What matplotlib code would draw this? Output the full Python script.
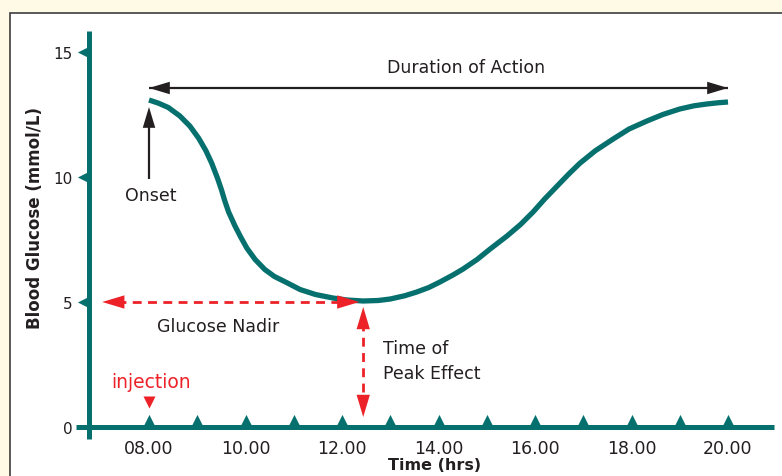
import matplotlib
matplotlib.use("Agg")
import matplotlib.pyplot as plt
import matplotlib.transforms as mtransforms
from matplotlib.patches import Rectangle

# ---- data ----
hours = [8.0, 8.2, 8.4, 8.64, 8.85, 9.03, 9.18, 9.3, 9.42, 9.5, 9.57, 9.65, 9.78,
         9.9, 10.03, 10.2, 10.4, 10.6, 10.85, 11.13, 11.45, 11.81, 12.1, 12.44,
         12.75, 13.0, 13.3, 13.55, 13.8, 14.03, 14.3, 14.51, 14.8, 15.07, 15.42,
         15.7, 15.96, 16.2, 16.45, 16.7, 16.93, 17.25, 17.62, 17.95, 18.32, 18.65,
         19.0, 19.3, 19.56, 19.8, 20.0]
glucose = [13.08, 12.95, 12.78, 12.44, 12.03, 11.55, 11.05, 10.55, 9.95, 9.5,
           9.05, 8.6, 8.05, 7.6, 7.15, 6.7, 6.3, 6.02, 5.78, 5.5, 5.3, 5.16,
           5.08, 5.04, 5.06, 5.12, 5.25, 5.4, 5.58, 5.8, 6.08, 6.32, 6.7, 7.12,
           7.64, 8.1, 8.6, 9.12, 9.62, 10.12, 10.55, 11.05, 11.52, 11.92, 12.24,
           12.5, 12.72, 12.85, 12.92, 12.97, 13.0]
hour_ticks = [8, 9, 10, 11, 12, 13, 14, 15, 16, 17, 18, 19, 20]
label_hours = [8, 10, 12, 14, 16, 18, 20]
label_texts = ["08.00", "10.00", "12.00", "14.00", "16.00", "18.00", "20.00"]
y_ticks = [0, 5, 10, 15]
y_tick_labels = ["0", "5", "10", "15"]

injection_time = 8.0
onset_time = 8.0
end_time = 20.0
nadir_time = 12.44
nadir_glucose = 5.0

TEAL = "#06706E"
RED = "#EC2228"
DARK = "#231F20"
FONT = "DejaVu Sans"

plt.rcParams["font.family"] = FONT

fig = plt.figure(figsize=(7.82, 4.77), dpi=100)
fig.patch.set_facecolor("#FEFAE5")
panel = Rectangle((10 / 782, -0.2), 1.5, 1.2 - 14 / 477, transform=fig.transFigure,
                  facecolor="white", edgecolor="#3d3d3d", lw=1.2, zorder=-5)
fig.add_artist(panel)

ax = fig.add_axes([71.8 / 782, 34 / 477, 704.45 / 782, 415 / 477])
ax.patch.set_visible(False)
ax.set_xlim(6.4, 21.0)
ax.set_ylim(-0.6, 16.0)

for s in ["top", "right"]:
    ax.spines[s].set_visible(False)
ax.spines["left"].set_position(("data", 6.76))
ax.spines["left"].set_bounds(-0.48, 15.84)
ax.spines["bottom"].set_position(("data", 0))
ax.spines["bottom"].set_bounds(6.49, 20.95)
for s in ["left", "bottom"]:
    ax.spines[s].set_color(TEAL)
    ax.spines[s].set_linewidth(3.6)
    ax.spines[s].set_capstyle("butt")

ax.set_xticks(label_hours)
ax.set_xticklabels(label_texts, fontsize=12.5, color=DARK)
ax.set_yticks(y_ticks)
ax.set_yticklabels(y_tick_labels, fontsize=11, color=DARK)
ax.tick_params(axis="x", length=0, pad=9)
ax.tick_params(axis="y", length=0, pad=12)

# triangle tick marks
up = mtransforms.offset_copy(ax.transData, fig=fig, x=0, y=7.5, units="dots")
ax.scatter(hour_ticks, [0] * len(hour_ticks), marker="^", s=65, color=TEAL,
           transform=up, zorder=4, linewidths=0, clip_on=False)
left = mtransforms.offset_copy(ax.transData, fig=fig, x=-6, y=0, units="dots")
ax.scatter([6.76] * 3, y_ticks[1:], marker="<", s=65, color=TEAL,
           transform=left, zorder=4, linewidths=0, clip_on=False)

# main curve
ax.plot(hours, glucose, color=TEAL, lw=3.8, solid_joinstyle="round",
        solid_capstyle="butt", zorder=5)

BLACK_HEAD = "-|>,head_length=1.5,head_width=0.45"
RED_HEAD = "-|>,head_length=1.6,head_width=0.48"


def head(tip, tail, color, style):
    ax.annotate("", xy=tip, xytext=tail,
                arrowprops=dict(arrowstyle=style, color=color, lw=0,
                                shrinkA=0, shrinkB=0, mutation_scale=10),
                zorder=6)


# Duration of action arrow
ax.plot([onset_time, end_time], [13.56, 13.56], color=DARK, lw=1.6,
        solid_capstyle="butt")
head((onset_time, 13.56), (onset_time + 1.0, 13.56), DARK, BLACK_HEAD)
head((end_time, 13.56), (end_time - 1.0, 13.56), DARK, BLACK_HEAD)
ax.text(14.57, 14.05, "Duration of Action", ha="center", va="bottom",
        fontsize=12.5, color=DARK)

# Onset arrow
ax.plot([onset_time, onset_time], [9.92, 12.4], color=DARK, lw=1.6,
        solid_capstyle="butt")
head((onset_time, 12.8), (onset_time, 10.8), DARK, BLACK_HEAD)
ax.text(onset_time + 0.03, 9.28, "Onset", ha="center", va="center",
        fontsize=12.5, color=DARK)

# Glucose nadir dashed arrow
nadir_left = 7.03
ax.plot([nadir_left + 0.3, nadir_time - 0.4], [nadir_glucose, nadir_glucose],
        color=RED, lw=2.0, ls=(0, (3.2, 2.3)))
head((nadir_left, nadir_glucose), (nadir_left + 1.0, nadir_glucose), RED, RED_HEAD)
head((nadir_time - 0.08, nadir_glucose), (nadir_time - 1.08, nadir_glucose), RED, RED_HEAD)
ax.text(9.43, 4.04, "Glucose Nadir", ha="center", va="center", fontsize=12.5,
        color=DARK)

# Time of peak effect dashed arrow
peak_top = 4.8
peak_bottom = 0.4
ax.plot([nadir_time, nadir_time], [peak_top - 0.6, peak_bottom + 0.6],
        color=RED, lw=2.0, ls=(0, (3.2, 2.3)))
head((nadir_time, peak_top), (nadir_time, peak_top - 2.0), RED, RED_HEAD)
head((nadir_time, peak_bottom), (nadir_time, peak_bottom + 2.0), RED, RED_HEAD)
ax.text(12.85, 2.66, "Time of\nPeak Effect", ha="left", va="center",
        fontsize=12.5, color=DARK, linespacing=1.5)

# injection marker
ax.text(injection_time + 0.04, 1.84, "injection", ha="center", va="center",
        fontsize=13.5, color=RED)
ax.scatter([injection_time], [1.0], marker="v", s=75, color=RED, linewidths=0,
           zorder=5)

ax.set_xlabel("Time (hrs)", fontsize=11.5, fontweight="bold", color=DARK)
ax.set_ylabel("Blood Glucose (mmol/L)", fontsize=12, fontweight="bold", color=DARK)
ax.xaxis.set_label_coords((435 - 71.8) / 704.45, (477 - 466 - 34) / 415)
ax.xaxis.label.set_va("center")
ax.yaxis.set_label_coords((35 - 71.8) / 704.45, (477 - 218 - 34) / 415)
ax.yaxis.label.set_va("center")

fig.savefig("out.png", dpi=100, facecolor=fig.get_facecolor())
